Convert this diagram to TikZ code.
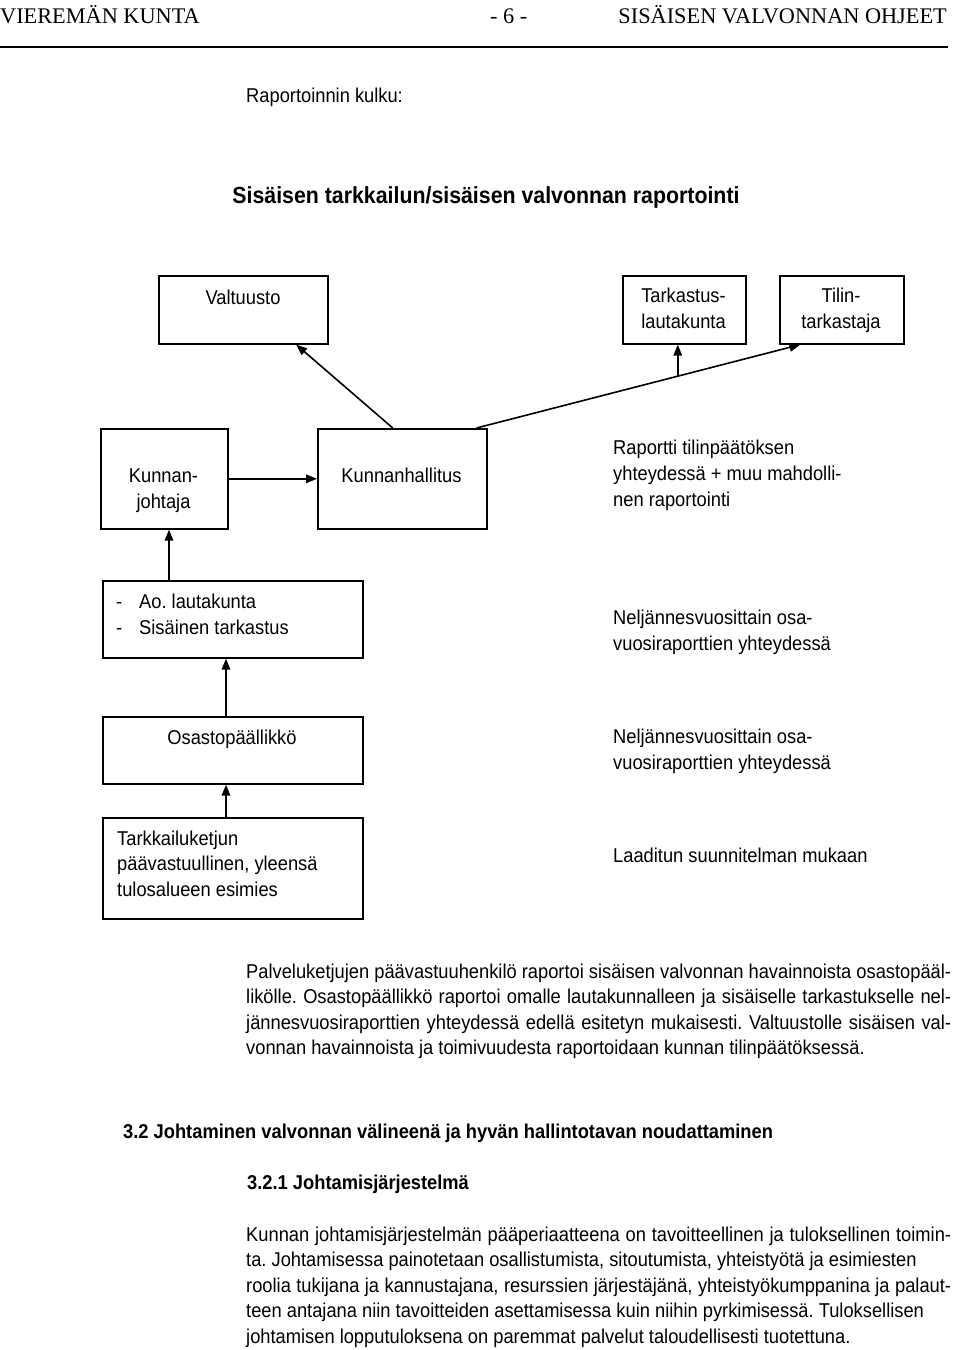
\documentclass[tikz,border=0pt]{standalone}
\usepackage{fontspec}
\setmainfont{Liberation Sans}[FakeStretch=0.915]
\newfontfamily\tms{Liberation Serif}
\usetikzlibrary{arrows.meta,calc}
\newcommand\mybox[5]{\node[box, anchor=north west, minimum width=#4pt, minimum height=#5pt] (#1) at (#2,#3) {};}
\frenchspacing
\begin{document}
\begin{tikzpicture}[x=1pt,y=-1pt,
  box/.style={draw, line width=1.6pt, inner sep=0pt},
  txt/.style={inner sep=0pt, anchor=base, font=\fontsize{20}{26}\selectfont},
  ltxt/.style={txt, anchor=base west},
  hdr/.style={inner sep=0pt, font=\tms\fontsize{22.3}{26}\selectfont},
  arr/.style={line width=1.6pt, -{Triangle[length=11pt,width=8.5pt]}}]
\useasboundingbox (0,0) rectangle (960,1350);

% header
\node[hdr, anchor=base west] (h1) at (0,23) {VIEREMÄN KUNTA};
\node[hdr, anchor=base west] (h2) at (490,23) {- 6 -};
\node[hdr, anchor=base east] (h3) at (947,23) {SISÄISEN VALVONNAN OHJEET};
\coordinate (r1) at (0,47);
\coordinate (r2) at (948,47);
\draw[line width=1.2pt] (r1) -- (r2);

\node[ltxt] (kulku) at (246,102) {Raportoinnin kulku:};
\node[txt, font=\fontsize{23.3}{28}\selectfont\bfseries] (title) at (486,203) {Sisäisen tarkkailun/sisäisen valvonnan raportointi};

% boxes
\mybox{valt}{158}{275}{169}{68}
\mybox{tark}{622}{275}{123}{68}
\mybox{tilin}{779}{275}{124}{68}
\mybox{kj}{100}{428}{127}{100}
\mybox{kh}{317}{428}{169}{100}
\mybox{ao}{102}{580}{260}{77}
\mybox{os}{102}{716}{260}{67}
\mybox{tk}{102}{817}{260}{101}

% box texts
\node[txt] (valtT) at (243,304) {Valtuusto};
\node[txt] (tarkT1) at (683.5,302) {Tarkastus-};
\node[txt] (tarkT2) at (683.5,328) {lautakunta};
\node[txt] (tilT1) at (841,302) {Tilin-};
\node[txt] (tilT2) at (841,328) {tarkastaja};
\node[txt] (kjT1) at (163.5,482) {Kunnan-};
\node[txt] (kjT2) at (163.5,508) {johtaja};
\node[txt] (khT) at (401.5,482) {Kunnanhallitus};
\node[ltxt] (aoD1) at (116,608) {-};
\node[ltxt] (aoT1) at (139,608) {Ao. lautakunta};
\node[ltxt] (aoD2) at (116,634) {-};
\node[ltxt] (aoT2) at (139,634) {Sisäinen tarkastus};
\node[txt] (osT) at (232,744) {Osastopäällikkö};
\node[ltxt] (tkT1) at (117,845) {Tarkkailuketjun};
\node[ltxt] (tkT2) at (117,870.5) {päävastuullinen, yleensä};
\node[ltxt] (tkT3) at (117,896) {tulosalueen esimies};

% right texts
\node[ltxt] (rp1) at (613,454) {Raportti tilinpäätöksen};
\node[ltxt] (rp2) at (613,480) {yhteydessä + muu mahdolli-};
\node[ltxt] (rp3) at (613,506) {nen raportointi};
\node[ltxt] (nq1) at (613,624) {Neljännesvuosittain osa-};
\node[ltxt] (nq2) at (613,650) {vuosiraporttien yhteydessä};
\node[ltxt] (nr1) at (613,743) {Neljännesvuosittain osa-};
\node[ltxt] (nr2) at (613,769) {vuosiraporttien yhteydessä};
\node[ltxt] (la) at (613,862) {Laaditun suunnitelman mukaan};

% arrows
\draw[arr] ($(kh.north west)!0.444!(kh.north east)$) -- ($(valt.south west)!0.81!(valt.south east)$);
\coordinate (khA) at ($(kh.north west)!0.935!(kh.north east)$);
\coordinate (tilA) at ($(tilin.south west)!0.17!(tilin.south east)$);
\draw[arr] (khA) -- (tilA);
\coordinate (mid) at ($(khA)!0.6215!(tilA)$);
\draw[arr] (mid) -- (mid |- tark.south);
\draw[arr] (kj.east) -- (kh.west);
\coordinate (aoT) at ($(ao.north west)+(67,0)$);
\draw[arr] (aoT) -- (aoT |- kj.south);
\coordinate (osN) at ($(os.north west)+(124,0)$);
\draw[arr] (osN) -- (osN |- ao.south);
\coordinate (tkN) at ($(tk.north west)+(124,0)$);
\draw[arr] (tkN) -- (tkN |- os.south);

% paragraph 1
\node[ltxt] (p1a) at (246,978) {\makebox[705pt][s]{Palveluketjujen päävastuuhenkilö raportoi sisäisen valvonnan havainnoista osastopääl-}};
\node[ltxt] (p1b) at (246,1003.5) {\makebox[705pt][s]{likölle. Osastopäällikkö raportoi omalle lautakunnalleen ja sisäiselle tarkastukselle nel-}};
\node[ltxt] (p1c) at (246,1029) {\makebox[705pt][s]{jännesvuosiraporttien yhteydessä edellä esitetyn mukaisesti. Valtuustolle sisäisen val-}};
\node[ltxt] (p1d) at (246,1054.5) {vonnan havainnoista ja toimivuudesta raportoidaan kunnan tilinpäätöksessä.};

% headings
\node[ltxt, font=\fontsize{20}{26}\selectfont\bfseries] (hd1) at (123,1138) {3.2 Johtaminen valvonnan välineenä ja hyvän hallintotavan noudattaminen};
\node[ltxt, font=\fontsize{20}{26}\selectfont\bfseries] (hd2) at (247,1189) {3.2.1 Johtamisjärjestelmä};

% paragraph 2
\node[ltxt] (p2a) at (246,1241) {\makebox[705pt][s]{Kunnan johtamisjärjestelmän pääperiaatteena on tavoitteellinen ja tuloksellinen toimin-}};
\node[ltxt] (p2b) at (246,1266.5) {ta. Johtamisessa painotetaan osallistumista, sitoutumista, yhteistyötä ja esimiesten};
\node[ltxt] (p2c) at (246,1292) {\makebox[705pt][s]{roolia tukijana ja kannustajana, resurssien järjestäjänä, yhteistyökumppanina ja palaut-}};
\node[ltxt] (p2d) at (246,1317.5) {teen antajana niin tavoitteiden asettamisessa kuin niihin pyrkimisessä. Tuloksellisen};
\node[ltxt] (p2e) at (246,1343) {johtamisen lopputuloksena on paremmat palvelut taloudellisesti tuotettuna.};
\end{tikzpicture}
\end{document}
